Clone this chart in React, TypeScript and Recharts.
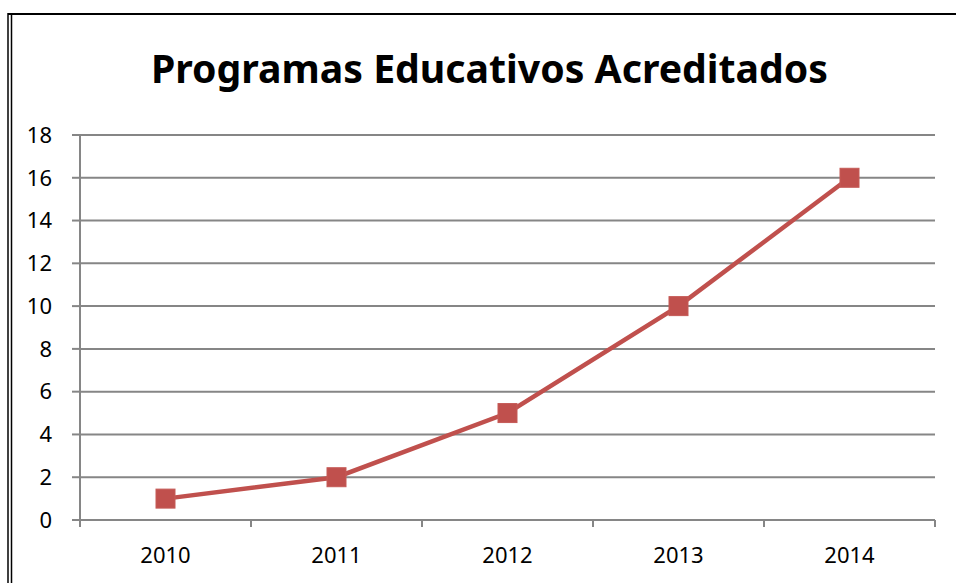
import { CartesianGrid, Line, LineChart, XAxis, YAxis } from "recharts";

const YEARS = ["2010", "2011", "2012", "2013", "2014"];
const PROGRAMS = [1, 2, 5, 10, 16];
const Y_TICKS = [0, 2, 4, 6, 8, 10, 12, 14, 16, 18];

const data = YEARS.map((year, i) => ({ year, value: PROGRAMS[i] }));

const W = 956;
const H = 583;
const MARGIN = { top: 135, right: 21, bottom: 0, left: 0 };
const Y_AXIS_W = 80;
const X_AXIS_H = 63;
const PLOT_W = W - MARGIN.left - MARGIN.right - Y_AXIS_W;
const BAND = PLOT_W / YEARS.length;

const GRID = "#868686";
const RED = "#C0504D";
const FONT = "'Noto Sans', 'Open Sans', sans-serif";

function YearTick(props: any) {
  const { x, y, payload, index, visibleTicksCount } = props;
  const last = index === (visibleTicksCount ?? YEARS.length) - 1;
  return (
    <g>
      <line x1={x - BAND / 2} x2={x - BAND / 2} y1={y} y2={y + 7} stroke={GRID} strokeWidth={2} />
      {last && <line x1={x + BAND / 2} x2={x + BAND / 2} y1={y} y2={y + 7} stroke={GRID} strokeWidth={2} />}
      <text x={x} y={y + 43} textAnchor="middle" fontSize={22} fontFamily={FONT} fill="#000">
        {payload.value}
      </text>
    </g>
  );
}

function SquareDot(props: any) {
  const { cx, cy } = props;
  if (cx == null || cy == null) return null;
  return <rect x={cx - 9.5} y={cy - 9.5} width={19} height={19} fill={RED} stroke="#C55A57" strokeWidth={1} />;
}

export default function App() {
  return (
    <div style={{ position: "fixed", left: 0, top: 0, width: W, height: H, background: "#fff" }}>
      <LineChart width={W} height={H} data={data} margin={MARGIN}>
        <CartesianGrid vertical={false} stroke={GRID} strokeWidth={2} />
        <XAxis
          dataKey="year"
          height={X_AXIS_H}
          padding={{ left: BAND / 2, right: BAND / 2 }}
          axisLine={{ stroke: GRID, strokeWidth: 2 }}
          tickLine={false}
          tickSize={0}
          tickMargin={0}
          tick={<YearTick />}
          interval={0}
        />
        <YAxis
          width={Y_AXIS_W}
          domain={[0, 18]}
          ticks={Y_TICKS}
          interval={0}
          axisLine={{ stroke: GRID, strokeWidth: 2 }}
          tickLine={{ stroke: GRID, strokeWidth: 2 }}
          tickSize={8}
          tickMargin={20}
          tick={{ fill: "#000", fontSize: 22, fontFamily: FONT }}
        />
        <Line
          type="linear"
          dataKey="value"
          stroke={RED}
          strokeWidth={4.5}
          dot={<SquareDot />}
          activeDot={false}
          isAnimationActive={false}
        />
      </LineChart>
      <svg width={W} height={H} style={{ position: "absolute", left: 0, top: 0, pointerEvents: "none" }}>
        <line x1={8} x2={8} y1={13} y2={H} stroke="#000" strokeWidth={1.5} />
        <line x1={11.5} x2={11.5} y1={15} y2={H} stroke="#000" strokeWidth={1.5} />
        <line x1={8} x2={W} y1={14} y2={14} stroke="#000" strokeWidth={2} />
        <text
          x={151}
          y={83}
          textLength={677}
          lengthAdjust="spacingAndGlyphs"
          fontSize={40}
          fontWeight="bold"
          fontFamily={FONT}
          fill="#000"
        >
          Programas Educativos Acreditados
        </text>
      </svg>
    </div>
  );
}
